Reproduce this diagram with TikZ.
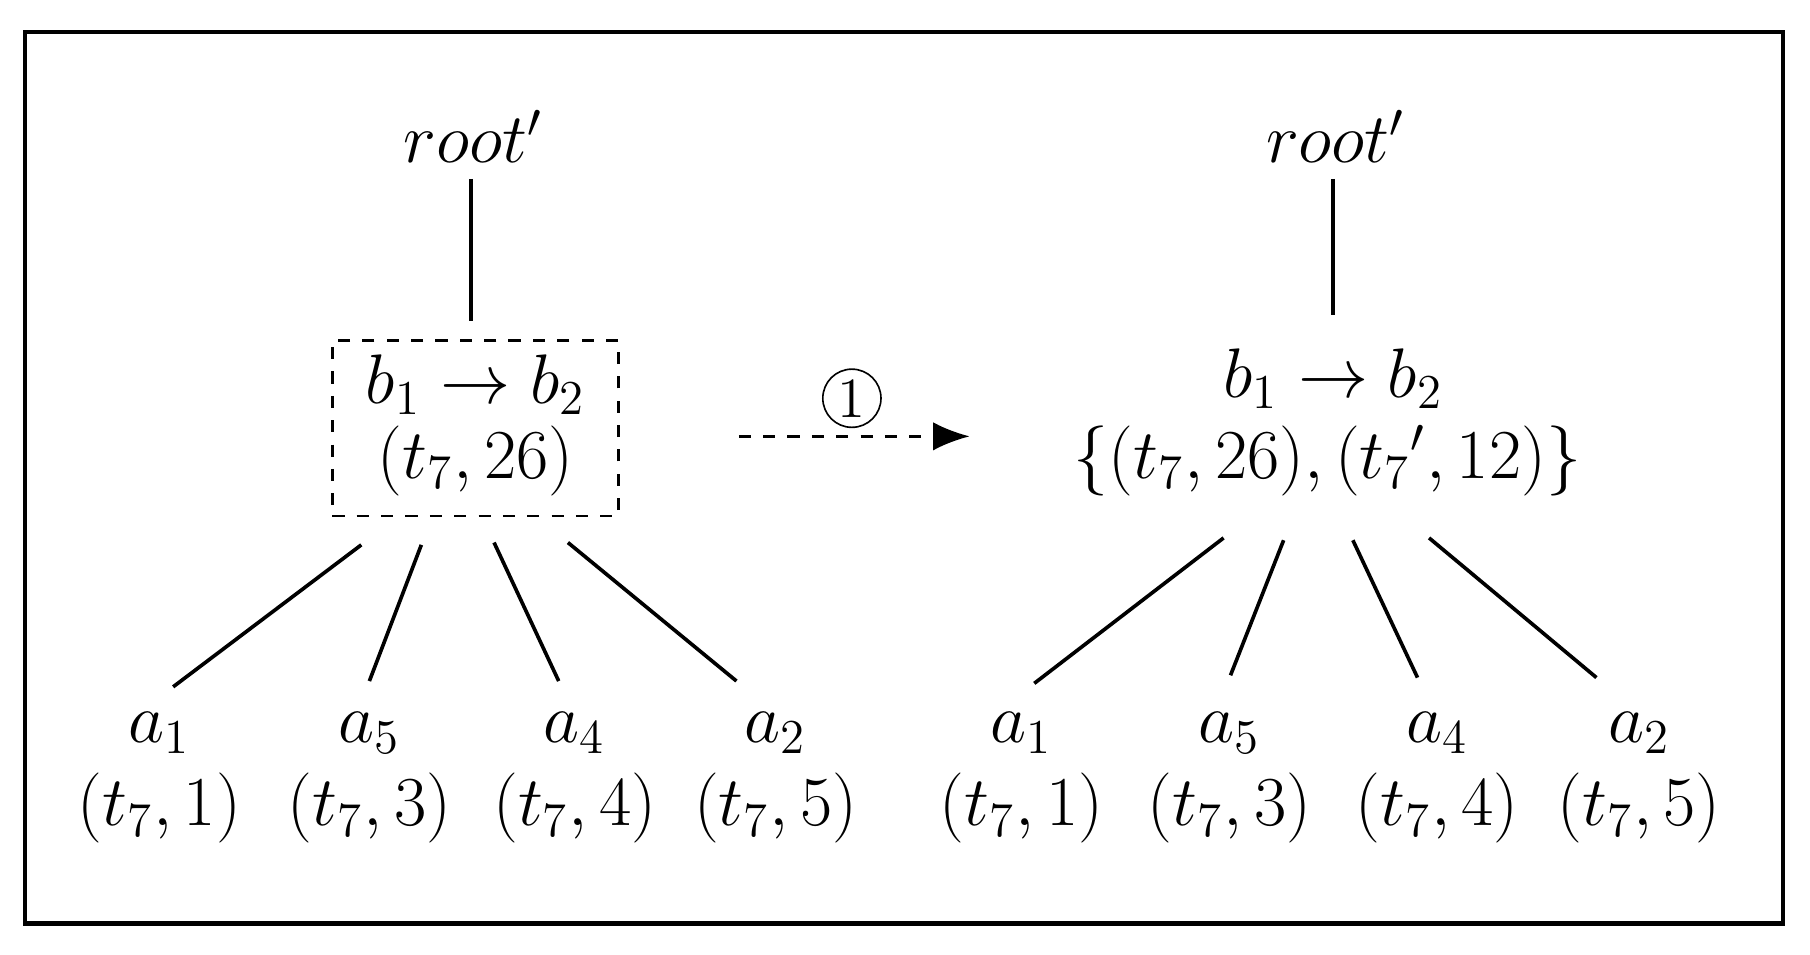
\documentclass[tikz,border=0pt]{standalone}
\usepackage{amsmath}
\usetikzlibrary{arrows.meta}
\begin{document}
\begin{tikzpicture}[x=0.01cm,y=-0.01cm,
  lbl/.style={inner sep=0pt,font=\fontsize{18.5}{20}\selectfont},
  edge/.style={line width=0.9pt},
  dbox/.style={draw,dashed,line width=0.7pt}]
\useasboundingbox (0,0) rectangle (1568,827);
\draw[line width=1pt] (22,28) rectangle (1545,800);
% left tree
\node[lbl] (rL) at (410,118) {$root'$};
\node[dbox,minimum width=2.48cm,minimum height=1.52cm] (bL) at (412,371) {};
\node[lbl] (bL1) at (412,333) {$b_1 \rightarrow b_2$};
\node[lbl] (bL2) at (412,399) {$(t_7,26)$};
\coordinate (rLs) at (408,155); \coordinate (bLn) at (408,278);
\draw[edge] (rLs) -- (bLn);
% right tree
\node[lbl] (rR) at (1157,118) {$root'$};
\node[lbl] (bR1) at (1155,328) {$b_1 \rightarrow b_2$};
\node[lbl] (bR2) at (1150,399) {$\{(t_7,26),(t_7{}',12)\}$};
\coordinate (rRs) at (1155,155); \coordinate (bRn) at (1155,273);
\draw[edge] (rRs) -- (bRn);
% arrow
\coordinate (aS) at (640,378); \coordinate (aE) at (840,378);
\draw[dashed,line width=0.7pt,-{Latex[length=9pt,width=7pt]}] (aS) -- (aE);
\node[draw,circle,inner sep=1pt,font=\fontsize{14}{15}\selectfont] (c1) at (738,345) {1};
% leaves
\foreach \n/\x/\i/\v in {L1/138/1/1,L2/320/5/3,L3/498/4/4,L4/672/2/5,R1/885/1/1,R2/1065/5/3,R3/1245/4/4,R4/1420/2/5}{
  \node[lbl] (a\n) at (\x,635) {$a_{\i}$};
  \node[lbl] (t\n) at (\x,700) {$(t_7,\v)$};
}
\foreach \n/\xa/\ya/\xb/\yb in {L1/313/472/150/595,L2/365/472/320/590,L3/428/470/484/590,L4/492/470/638/590,
  R1/1060/466/896/592,R2/1112/468/1066/585,R3/1172/468/1228/587,R4/1238/466/1383/587}{
  \coordinate (p\n) at (\xa,\ya); \coordinate (q\n) at (\xb,\yb);
  \draw[edge] (p\n) -- (q\n);
}
\end{tikzpicture}
\end{document}
